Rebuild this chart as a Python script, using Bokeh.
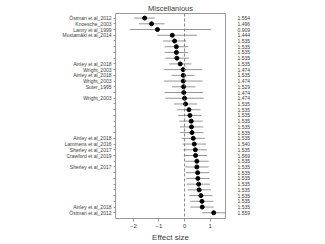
from bokeh.plotting import figure
from bokeh.models import Range1d, FixedTicker, LinearAxis, Span, ColumnDataSource
from bokeh.embed import file_html
from bokeh.resources import INLINE

studies = ["Östman et al_2012", "Knoesche_2003", "Lanny et al_1999", "Mustamäki et al_2014",
           "", "", "", "", "Ainley et al_2018", "Wright_2003", "Ainley et al_2018", "Wright_2003",
           "Suter_1995", "", "Wright_2003", "", "", "", "", "", "", "Ainley et al_2018",
           "Lammens et al_2016", "Sherley et al_2017", "Crawford et al_2019", "", "Sherley et al_2017",
           "", "", "", "", "", "", "Ainley et al_2018", "Östman et al_2012"]
estimates = [-1.56, -1.29, -1.06, -0.48, -0.39, -0.32, -0.32, -0.30, -0.17, -0.06, -0.05, -0.05,
             -0.04, -0.03, 0.00, 0.04, 0.17, 0.21, 0.26, 0.27, 0.29, 0.34, 0.38, 0.42, 0.43,
             0.48, 0.48, 0.51, 0.52, 0.55, 0.57, 0.64, 0.68, 0.69, 1.14]
lower = [-1.97, -1.78, -2.13, -1.07, -0.84, -0.78, -0.78, -0.75, -0.61, -0.81, -0.51, -0.81,
         -0.49, -0.78, -0.75, -0.42, -0.29, -0.25, -0.20, -0.18, -0.17, -0.12, -0.08, -0.04,
         -0.03, 0.03, 0.03, 0.05, 0.07, 0.09, 0.12, 0.18, 0.22, 0.23, 0.69]
upper = [-1.16, -0.78, 1.04, 0.49, 0.07, 0.14, 0.14, 0.17, 0.27, 0.69, 0.40, 0.71,
         0.43, 0.73, 0.75, 0.49, 0.62, 0.66, 0.71, 0.73, 0.74, 0.79, 0.84, 0.87,
         0.88, 0.94, 0.94, 0.96, 0.97, 1.00, 1.03, 1.09, 1.13, 1.14, 1.60]
weights = ["1.554", "1.496", "0.909", "1.444", "1.535", "1.535", "1.535", "1.535", "1.535",
           "1.474", "1.535", "1.474", "1.529", "1.474", "1.474", "1.535", "1.535", "1.535",
           "1.535", "1.535", "1.535", "1.535", "1.540", "1.535", "1.569", "1.535", "1.535",
           "1.535", "1.535", "1.535", "1.535", "1.535", "1.535", "1.535", "1.559"]
x_ticks = [-2, -1, 0, 1]
title_text = "Miscellanious"
x_label = "Effect size"

rows = list(range(1, len(studies) + 1))
src = ColumnDataSource(dict(row=rows, est=estimates, lo=lower, hi=upper))

FONT = "Liberation Sans"
TXT = "#3a3a3a"
GRAY = "#7a7a7a"

p = figure(width=309, height=244, output_backend="svg", toolbar_location=None,
           x_range=Range1d(-2.7, 1.6), y_range=Range1d(36.0, 0.2),
           min_border_left=115, min_border_right=84, min_border_top=0, min_border_bottom=24)
p.title.text = title_text
p.title.align = "center"
p.title.text_font = FONT
p.title.text_font_size = "7.5px"
p.title.text_font_style = "normal"
p.title.text_color = TXT
p.title.standoff = 2
p.title.offset = 0

p.xgrid.visible = False
p.ygrid.visible = False
p.outline_line_color = "#999999"
p.outline_line_width = 1

p.add_layout(Span(location=0, dimension="height", line_color="#666666",
                  line_dash="3 2", line_width=0.8))
p.segment(x0="lo", y0="row", x1="hi", y1="row", source=src, line_color=GRAY, line_width=0.8)
p.scatter(x="est", y="row", source=src, size=4, color="black")

xa = p.xaxis[0]
xa.ticker = FixedTicker(ticks=x_ticks)
xa.axis_label = x_label
xa.axis_label_text_font = FONT
xa.axis_label_text_font_size = "8px"
xa.axis_label_text_font_style = "normal"
xa.axis_label_text_color = TXT
xa.axis_label_standoff = 2
xa.major_label_text_font = FONT
xa.major_label_text_font_size = "6px"
xa.major_label_text_color = TXT
xa.major_label_standoff = 2
xa.axis_line_color = None
xa.major_tick_line_color = "#999999"
xa.major_tick_in = 0
xa.major_tick_out = 3
xa.minor_tick_line_color = None

ya = p.yaxis[0]
ya.ticker = FixedTicker(ticks=rows)
ya.major_label_overrides = {r: s for r, s in zip(rows, studies)}
ya.major_label_text_font = FONT
ya.major_label_text_font_size = "5px"
ya.major_label_text_color = TXT
ya.major_label_standoff = 2
ya.axis_line_color = None
ya.major_tick_line_color = "#999999"
ya.major_tick_in = 0
ya.major_tick_out = 2
ya.minor_tick_line_color = None

ra = LinearAxis(ticker=FixedTicker(ticks=rows),
                major_label_overrides={r: w for r, w in zip(rows, weights)})
ra.major_label_text_font = FONT
ra.major_label_text_font_size = "5px"
ra.major_label_text_color = TXT
ra.major_label_standoff = 6
ra.axis_line_color = None
ra.major_tick_line_color = None
ra.minor_tick_line_color = None
p.add_layout(ra, "right")

open("out.html", "w").write(file_html(p, INLINE))
